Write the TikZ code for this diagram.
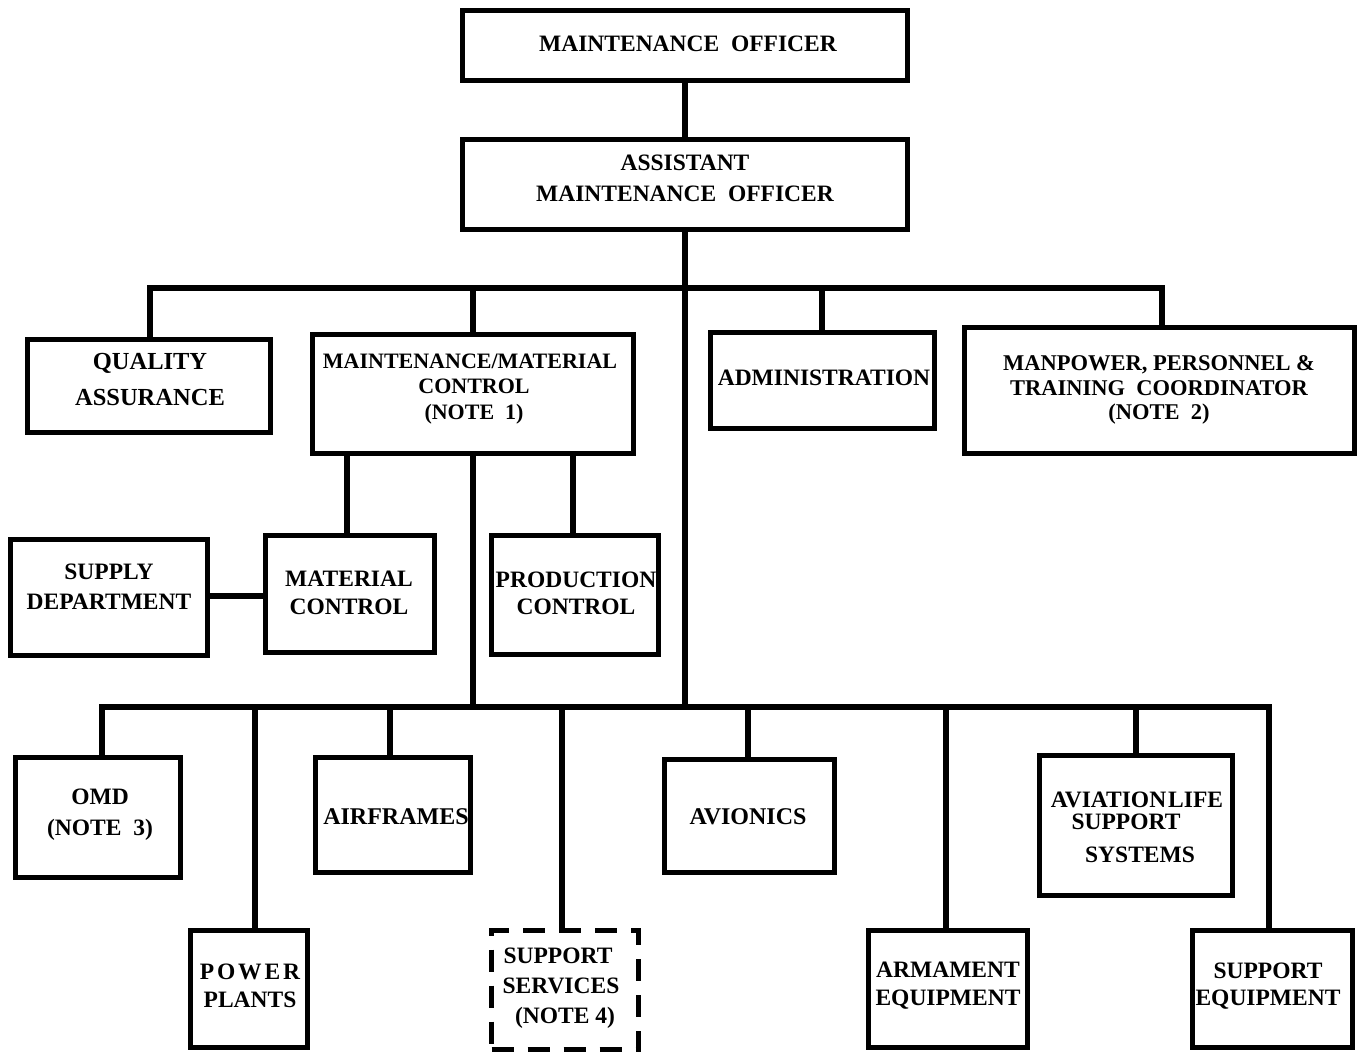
\documentclass[tikz,border=0pt]{standalone}
\usepackage{fontspec}
\setmainfont{Liberation Serif}
\newcommand\chartfont[2]{\fontsize{#1}{#2}\selectfont\bfseries}
\begin{document}
\begin{tikzpicture}[x=1pt,y=-1pt,
  box/.style 2 args={draw, line width=5.5pt, inner sep=0pt, minimum width=#1pt, minimum height=#2pt},
  dbox/.style 2 args={box={#1}{#2}, dash pattern=on 22pt off 14pt},
  ln/.style={line width=5.5pt, line join=miter},
  txt/.style={inner sep=0pt, align=center, font=\chartfont{23.5}{26}}]
\fill[white] (0,0) rectangle (1361,1055);
\useasboundingbox (0,0) rectangle (1361,1055);

% boxes
\node[box={445}{70}] (mo) at (685,45.5) {};
\node[box={445}{90}] (amo) at (685,184.5) {};
\node[box={243}{93}] (qa) at (149,386) {};
\node[box={321}{119}] (mmc) at (473,394) {};
\node[box={224}{96}] (adm) at (822.5,380.5) {};
\node[box={390}{126}] (mpt) at (1159.5,390.5) {};
\node[box={197}{116}] (sup) at (109,597.5) {};
\node[box={169}{117}] (mc) at (350,594) {};
\node[box={167}{119}] (pc) at (575,595) {};
\node[box={165}{120}] (omd) at (98,817.5) {};
\node[box={155}{115}] (af) at (393,815) {};
\node[box={170}{113}] (av) at (749.5,816) {};
\node[box={193}{140}] (al) at (1136,825.5) {};
\node[box={117}{117}] (pp) at (249,989) {};
\node[dbox={147}{119}] (ss) at (565,990) {};
\node[box={159}{117}] (arm) at (948,989) {};
\node[box={160}{117}] (se) at (1272.5,989) {};

% texts
\node[txt] (moT) at (688,44) {MAINTENANCE\ \ OFFICER};
\node[txt, font=\chartfont{23.5}{31}] (amoT) at (685,178.5) {ASSISTANT\\MAINTENANCE\ \ OFFICER};
\node[txt, font=\chartfont{24.5}{36}] (qaT) at (150,380) {QUALITY\\ASSURANCE};
\node[txt, font=\chartfont{22}{25.5}] (mmcT) at (470,389) {MAINTENANCE/MATERIAL\\\hspace*{8pt}CONTROL\\\hspace*{8pt}(NOTE\ \ 1)};
\node[txt] (admT) at (824,378) {ADMINISTRATION};
\node[txt, font=\chartfont{22.5}{24.5}] (mptT) at (1159,390) {MANPOWER, PERSONNEL \&\\TRAINING\ \ COORDINATOR\\(NOTE\ \ 2)};
\node[txt, font=\chartfont{23.5}{30}] (supT) at (109,587) {SUPPLY\\DEPARTMENT};
\node[txt, font=\chartfont{23.5}{28}] (mcT) at (349,593) {MATERIAL\\CONTROL};
\node[txt, font=\chartfont{23.5}{27}] (pcT) at (576,593.5) {PRODUCTION\\CONTROL};
\node[txt, font=\chartfont{23.5}{31}] (omdT) at (100,815) {OMD\\(NOTE\ \ 3)};
\node[txt, font=\chartfont{24}{26}] (afT) at (396,817) {AIRFRAMES};
\node[txt, font=\chartfont{24}{26}] (avT) at (748,817) {AVIONICS};
\node[txt, font=\chartfont{23.5}{22}] (alT) at (1137,827.5) {AVIATION\kern2pt LIFE\\\hspace*{-22pt}SUPPORT\\[11pt]\hspace*{6pt}SYSTEMS};
\node[txt, font=\chartfont{23.5}{28}] (ppT) at (250,986) {{\addfontfeatures{LetterSpace=12}POWER}\\PLANTS};
\node[txt, font=\chartfont{23.5}{30}] (ssT) at (561,988) {\hspace*{-6pt}SUPPORT\\SERVICES\\\hspace*{8pt}(NOTE 4)};
\node[txt, font=\chartfont{23.5}{28}] (armT) at (948,986) {ARMAMENT\\EQUIPMENT};
\node[txt, font=\chartfont{23.5}{27}] (seT) at (1268,986.5) {SUPPORT\\EQUIPMENT};

% bus coordinates
\coordinate (tqa) at (150,288);
\coordinate (tmmc) at (473,288);
\coordinate (tadm) at (822,288);
\coordinate (tmpt) at (1162,288);
\coordinate (dmc) at (347,500);
\coordinate (dpc) at (573,500);
\coordinate (ltr) at (685,707);
\coordinate (lomd) at (102,707);
\coordinate (lpp) at (255,707);
\coordinate (laf) at (390,707);
\coordinate (lss) at (562,707);
\coordinate (lav) at (748,707);
\coordinate (larm) at (946,707);
\coordinate (lal) at (1136,707);
\coordinate (lse) at (1269,707);

% connectors
\draw[ln] (mo.south) -- (amo.north);
\draw[ln] (amo.south) -- (ltr);
\draw[ln] (tqa |- qa.north) -- (tqa) -- (tmpt) -- (tmpt |- mpt.north);
\draw[ln] (tmmc) -- (tmmc |- mmc.north);
\draw[ln] (tadm) -- (tadm |- adm.north);
\draw[ln] (dmc |- mmc.south) -- (dmc |- mc.north);
\draw[ln] (dpc |- mmc.south) -- (dpc |- pc.north);
\draw[ln] (mmc.south) -- (mmc.south |- ltr);
\draw[ln] (sup.east |- 0,596) -- (mc.west |- 0,596);
\draw[ln] (lomd |- omd.north) -- (lomd) -- (lse) -- (lse |- se.north);
\draw[ln] (lpp) -- (lpp |- pp.north);
\draw[ln] (laf) -- (laf |- af.north);
\draw[ln] (lss) -- (lss |- ss.north);
\draw[ln] (lav) -- (lav |- av.north);
\draw[ln] (larm) -- (larm |- arm.north);
\draw[ln] (lal) -- (lal |- al.north);
\end{tikzpicture}
\end{document}
